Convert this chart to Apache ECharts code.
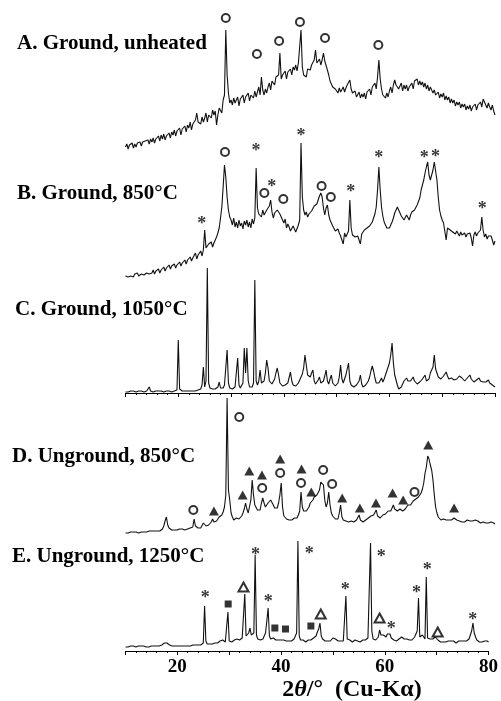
<!DOCTYPE html>
<html><head><meta charset="utf-8">
<script src="https://cdn.jsdelivr.net/npm/echarts/dist/echarts.min.js"></script>
<style>html,body{margin:0;padding:0;background:#fff}#c{width:501px;height:701px}</style>
</head><body><div id="c"></div>
<script>
// 2-theta sampling of the digitised patterns (degrees)
const thetaStart = 10;
const thetaStep = 0.25;
const xTicks = [20, 40, 60, 80];

// A. Ground, unheated
const intensityA = [
8,11,6,10, 9,12,7,11, 8,12,10,13, 9,13,11,14, 12,15,11,16,
13,17,12,16, 15,19,14,20, 16,21,15,19, 18,22,17,23, 20,25,19,24,
22,27,20,26, 24,29,23,30, 27,33,25,31, 30,35,42,33, 34,31,38,33,
37,42,33,40, 41,37,45,40, 44,30,40,47, 48,42,55,60, 125,80,62,52,
55,50,57,52, 53,58,49,56, 55,60,52,58, 56,62,54,60, 60,57,64,58,
63,68,60,78, 65,60,66,62, 68,72,65,74, 74,70,78,80, 80,102,76,80,
78,84,76,83, 82,86,80,88, 85,90,84,92, 90,125,88,80, 82,78,86,84,
85,90,88,95, 105,92,90,96, 90,95,102,94, 92,85,80,74, 72,68,70,66,
66,62,67,63, 65,68,63,67, 70,72,75,66, 62,60,64,58, 60,63,57,61,
58,62,56,63, 62,66,60,68, 68,72,66,78, 95,76,66,60, 60,57,62,58,
64,68,62,70, 75,70,72,66, 68,72,64,70, 66,70,64,68, 68,72,66,74,
72,76,70,74, 70,73,68,72, 66,70,64,68, 66,62,65,60, 60,63,57,61,
58,62,55,59, 55,58,52,56, 52,55,49,53, 50,53,47,51, 48,51,45,49,
46,50,44,48, 47,51,45,50, 50,53,48,56, 55,50,47,52, 48,45,50,44,
40];

// B. Ground, 850°C
const intensityB = [
4,6,3,5, 4,6,3,6, 5,7,4,6, 6,8,5,7, 7,9,6,8,
7,10,6,9, 8,11,7,10, 10,13,9,12, 12,15,11,14, 13,16,12,15,
15,18,14,17, 17,20,16,20, 20,23,19,22, 23,27,21,25, 26,29,24,30,
50,32,34,36, 35,38,33,37, 40,43,47,52, 62,73,93,115, 103,83,70,63,
60,55,62,53, 58,52,60,54, 57,51,59,55, 60,53,58,52, 61,56,62,112,
72,66,68,63, 70,65,65,70, 70,74,80,68, 62,67,65,70, 70,66,63,60,
57,61,52,56, 53,49,50,54, 52,48,50,55, 60,137,83,70, 65,68,63,66,
65,69,70,74, 72,76,80,84, 87,83,72,65, 72,75,65,60, 58,54,52,49,
48,51,47,44, 45,36,47,43, 45,49,80,52, 45,47,43,45, 44,46,36,46,
47,50,48,52, 50,54,55,58, 60,66,73,90, 113,90,73,64, 58,55,52,54,
52,55,58,62, 67,70,73,70, 68,64,63,60, 62,65,63,60, 65,68,67,70,
72,75,77,82, 90,95,100,107, 113,118,105,100, 102,110,118,120, 100,83,70,64,
60,57,55,40, 52,54,50,51, 48,50,46,49, 47,44,48,45, 45,47,43,46,
44,47,42,34, 45,48,44,47, 47,50,63,50, 43,46,41,44, 42,44,40,35,
39];

// C. Ground, 1050°C
const intensityC = [
1,2,1,2, 2,1,2,2, 1,2,2,1, 2,2,1,2, 2,2,6,2,
2,1,2,2, 2,2,1,2, 2,1,2,2, 2,2,2,1, 2,2,2,3,
53,4,2,2, 2,2,2,2, 2,2,2,2, 2,2,2,3, 3,4,8,26,
6,12,125,10, 5,4,4,5, 4,5,6,11, 5,4,5,8, 10,43,10,5,
4,4,5,6, 8,35,8,5, 6,10,45,20, 45,12,6,5, 6,10,113,12,
8,12,23,10, 9,12,20,33, 25,12,10,9, 10,14,20,25, 18,10,8,7,
7,8,9,10, 12,21,12,8, 6,7,8,10, 12,16,19,25, 38,28,18,16,
16,20,23,12, 9,10,13,16, 10,9,12,17, 23,12,9,14, 18,10,8,7,
8,10,16,28, 14,10,12,18, 24,30,12,8, 7,6,7,8, 9,12,18,9,
6,7,8,10, 12,16,22,27, 22,15,10,9, 10,12,15,11, 14,18,22,26,
30,38,50,30, 18,13,8,4, 3,6,9,12, 12,15,12,10, 12,14,16,12,
10,9,10,11, 12,14,16,18, 12,10,14,20, 20,26,38,24, 20,16,15,14,
15,17,19,21, 17,14,13,15, 16,13,12,14, 15,17,18,15, 13,12,14,15,
16,18,14,12, 11,12,13,14, 15,12,10,11, 10,11,12,13, 10,9,8,8,
6];

// D. Unground, 850°C
const intensityD = [
2,3,2,3, 3,2,3,3, 3,3,2,3, 3,4,3,3, 3,3,4,3,
4,3,4,4, 4,5,4,5, 6,9,14,18, 10,7,6,5, 6,5,6,5,
5,6,5,6, 6,5,6,6, 6,7,6,8, 16,9,7,7, 8,7,9,12,
10,9,8,10, 11,13,16,13, 12,14,15,18, 19,20,23,28, 40,137,45,35,
22,18,15,16, 17,18,16,17, 19,22,26,32, 26,22,24,35, 55,40,30,28,
25,23,25,32, 37,32,28,30, 32,34,35,33, 30,27,25,27, 32,40,52,28,
19,18,16,17, 15,16,15,16, 17,18,17,20, 24,43,28,24, 23,24,25,28,
32,33,35,38, 38,40,42,45, 53,51,50,35, 28,32,43,30, 22,19,18,16,
15,16,22,30, 18,15,14,14, 14,13,13,14, 14,13,14,15, 16,20,15,14,
13,14,15,16, 17,18,19,21, 20,22,25,19, 18,17,18,20, 20,21,22,24,
22,24,26,30, 26,25,24,25, 26,27,24,25, 26,28,30,31, 30,31,34,33,
36,37,38,40, 42,46,52,62, 68,79,76,70, 65,55,40,28, 22,18,16,15,
15,16,15,15, 14,15,16,15, 16,17,16,15, 15,14,14,13, 14,13,14,15,
13,14,13,14, 14,15,13,14, 13,12,14,13, 14,12,13,12, 12,13,11,12,
11];

// E. Unground, 1250°C
const intensityE = [
4,5,4,5, 5,4,5,4, 4,5,5,4, 5,4,5,5, 4,5,4,5,
5,4,5,5, 5,6,5,6, 6,7,8,9, 8,7,6,5, 5,6,5,4,
5,6,5,5, 5,4,5,6, 5,6,5,5, 6,5,6,6, 6,7,6,7,
8,45,10,7, 6,7,6,7, 7,8,7,8, 9,10,9,11, 11,9,10,39,
10,8,9,10, 11,10,12,10, 11,12,13,15, 57,15,14,18, 23,16,14,18,
96,16,12,11, 11,10,12,14, 18,30,43,15, 12,11,13,12, 11,12,11,10,
11,12,11,10, 10,11,10,9, 10,11,12,14, 18,110,15,11, 10,11,10,9,
10,11,12,11, 12,13,12,15, 19,22,28,15, 12,11,10,11, 10,11,10,12,
13,15,12,10, 10,11,10,9, 10,12,55,12, 10,11,10,9, 10,11,12,10,
10,9,10,11, 10,11,12,13, 15,108,20,12, 12,11,13,14, 21,16,14,16,
16,14,17,15, 17,13,12,11, 11,10,11,12, 13,14,13,12, 13,12,14,11,
12,11,13,14, 14,20,53,14, 13,16,14,12, 74,13,11,12, 11,12,13,14,
12,11,10,9, 10,9,10,9, 9,10,9,10, 9,10,9,8, 9,10,9,10,
9,10,11,10, 11,12,14,20, 28,18,14,11, 10,9,10,9, 9,10,9,10,
9];

// phase markers [2theta, intensity]
const circlesA = [[29.0,137],[34.9,101],[39.1,114],[43.05,133],[47.8,117],[57.9,110]];
const circlesB = [[28.85,128],[36.3,87],[39.9,81],[47.15,94],[48.9,83]];
const starsB = [[24.45,60],[34.7,133],[37.7,97],[43.25,148],[52.65,92],[58.0,126],[66.6,126],[68.75,127],[77.6,75]];
const circlesD = [[22.85,25],[31.55,118],[35.9,47],[39.3,62],[43.25,52],[47.45,65],[49.15,51],[64.75,43]];
const trianglesD = [[26.75,24],[32.2,40],[33.45,64],[35.85,60],[39.3,76],[43.35,66],[45.2,43],[51.05,37],[54.4,27],[57.45,32],[60.6,42],[62.6,35],[67.35,90],[72.25,27]];
const starsE = [[25.4,57],[35.05,100],[37.55,53],[45.45,101],[52.4,65],[59.3,98],[61.25,26],[66.1,62],[68.2,85],[76.95,35]];
const squaresE = [[29.8,47],[38.8,23],[40.85,22],[45.75,25]];
const openTrianglesE = [[32.75,64],[47.65,37],[59.0,33],[70.2,19]];

const panelLabels = ['A. Ground, unheated','B. Ground, 850°C','C. Ground, 1050°C','D. Unground, 850°C','E. Unground, 1250°C'];

// ---- layout (pixels) ----
const zeroLines = [155, 280, 393, 535, 651];
const labelPos = [[17,45],[17,195],[15,311],[12,458],[12,558]];
const SERIF = '"Liberation Serif","Times New Roman",serif';

const patterns = [intensityA, intensityB, intensityC, intensityD, intensityE];
const toPairs = vals => vals.map((v, i) => [thetaStart + i * thetaStep, v]);

const grids = [], xAxes = [], yAxes = [], series = [];
zeroLines.forEach((z, i) => {
  grids.push({left: 125.5, right: 6, top: 0, height: z});
  const showAxis = (i === 2 || i === 4);
  xAxes.push({
    type: 'value', gridIndex: i, min: 10, max: 80, interval: 10,
    show: showAxis,
    axisLine: {show: true, onZero: false, lineStyle: {color: '#000', width: 1}},
    axisTick: {show: true, length: 4, lineStyle: {color: '#000', width: 1}},
    minorTick: {show: true, splitNumber: 5, length: 2, lineStyle: {color: '#000', width: 1}},
    splitLine: {show: false},
    axisLabel: {
      show: i === 4, margin: 7, color: '#000', fontFamily: SERIF, fontWeight: 'bold', fontSize: 19,
      formatter: v => xTicks.indexOf(v) >= 0 ? String(v) : ''
    }
  });
  yAxes.push({type: 'value', gridIndex: i, min: 0, max: z, show: false});
  series.push({
    type: 'line', xAxisIndex: i, yAxisIndex: i, data: toPairs(patterns[i]),
    showSymbol: false, symbol: 'none', lineStyle: {color: '#111', width: 1.1}, z: 2
  });
});

function markerSeries(grid, data, kind) {
  const base = {type: 'scatter', xAxisIndex: grid, yAxisIndex: grid, data: data, z: 5, silent: true};
  if (kind === 'star') {
    return Object.assign(base, {
      symbol: 'circle', symbolSize: 2, itemStyle: {color: 'rgba(0,0,0,0)'},
      label: {show: true, position: 'inside', formatter: '*', color: '#000',
        fontFamily: SERIF, fontWeight: 'bold', fontSize: 18, offset: [0, 4]}
    });
  }
  if (kind === 'circle') return Object.assign(base, {symbol: 'emptyCircle', symbolSize: 8,
    itemStyle: {color: '#000', borderColor: '#000', borderWidth: 1.3}});
  if (kind === 'tri') return Object.assign(base, {symbol: 'triangle', symbolSize: [10, 9], itemStyle: {color: '#000'}});
  if (kind === 'otri') return Object.assign(base, {symbol: 'emptyTriangle', symbolSize: [10, 9],
    itemStyle: {color: '#000', borderColor: '#000', borderWidth: 1.2}});
  if (kind === 'sq') return Object.assign(base, {symbol: 'rect', symbolSize: 7, itemStyle: {color: '#000'}});
}
series.push(markerSeries(0, circlesA, 'circle'));
series.push(markerSeries(1, circlesB, 'circle'));
series.push(markerSeries(1, starsB, 'star'));
series.push(markerSeries(3, circlesD, 'circle'));
series.push(markerSeries(3, trianglesD, 'tri'));
series.push(markerSeries(4, starsE, 'star'));
series.push(markerSeries(4, squaresE, 'sq'));
series.push(markerSeries(4, openTrianglesE, 'otri'));

const graphic = panelLabels.map((t, i) => ({
  type: 'text', left: labelPos[i][0], top: labelPos[i][1] - 12,
  style: {text: t, fill: '#000', font: 'bold 21px ' + SERIF}
}));
graphic.push({
  type: 'text', x: 352, y: 690,
  style: {
    text: '2{i|θ}/°  (Cu-Kα)', fill: '#000', font: 'bold 24px ' + SERIF,
    align: 'center', verticalAlign: 'middle',
    rich: {i: {fontStyle: 'italic', fontWeight: 'bold', fontSize: 24, fontFamily: SERIF}}
  }
});

const chart = echarts.init(document.getElementById('c'), null, {renderer: 'canvas'});
chart.setOption({
  animation: false, backgroundColor: '#fff',
  grid: grids, xAxis: xAxes, yAxis: yAxes, series: series, graphic: graphic
});
</script></body></html>
